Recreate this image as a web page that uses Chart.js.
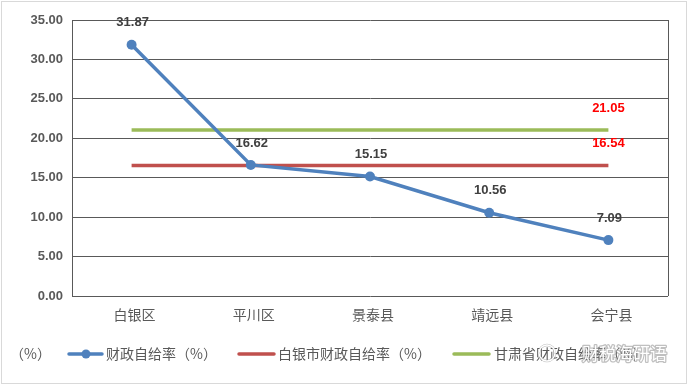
<!DOCTYPE html>
<html><head><meta charset="utf-8">
<script src="https://cdn.jsdelivr.net/npm/chart.js@4"></script>
<style>html,body{margin:0;padding:0;background:#fff}#w{width:689px;height:386px;position:relative}</style>
</head><body><div id="w"><canvas id="c" width="689" height="386"></canvas></div>
<script>
const categories = ['白银区','平川区','景泰县','靖远县','会宁县'];
const selfRate = [31.87,16.62,15.15,10.56,7.09];
const cityRate = [16.54,16.54,16.54,16.54,16.54];
const provRate = [21.05,21.05,21.05,21.05,21.05];
const yTicks = [0,5,10,15,20,25,30,35];
const seriesNames = ['财政自给率（%）','白银市财政自给率（%）','甘肃省财政自给率（%）'];
const unitLabel = '（%）';
const watermark = '财税海研语';
const blue='#4f81bd', red='#c0504d', green='#9bbb59', txt='#595959';
const cjk = '"Noto Sans CJK SC","Microsoft YaHei",sans-serif';
const latin = '"Liberation Sans", Arial, sans-serif';

const labelsPlugin = {
  id:'labs',
  afterDatasetsDraw(chart){
    const ctx=chart.ctx;
    ctx.save();
    ctx.textAlign='center';ctx.textBaseline='middle';
    ctx.font='bold 13px '+latin;
    const m0=chart.getDatasetMeta(0);
    m0.data.forEach((p,i)=>{ctx.fillStyle='#404040';ctx.fillText(selfRate[i].toFixed(2),p.x+1,p.y-22);});
    const m1=chart.getDatasetMeta(1), m2=chart.getDatasetMeta(2);
    const li=categories.length-1;
    ctx.fillStyle='#ff0000';
    ctx.fillText(cityRate[li].toFixed(2),m1.data[li].x,m1.data[li].y-22);
    ctx.fillText(provRate[li].toFixed(2),m2.data[li].x,m2.data[li].y-22);
    ctx.restore();
  }
};
const framePlugin = {
  id:'frame',
  beforeDraw(chart){
    const ctx=chart.ctx;ctx.save();
    ctx.fillStyle='#fff';ctx.fillRect(0,0,689,386);
    ctx.strokeStyle='#d9d9d9';ctx.lineWidth=1;ctx.strokeRect(1.5,1.5,685,382);
    ctx.restore();
  },
  afterDraw(chart){
    const ctx=chart.ctx, a=chart.chartArea;ctx.save();
    ctx.strokeStyle='#595959';ctx.lineWidth=1;
    ctx.beginPath();ctx.moveTo(Math.round(a.right)+0.5,a.top);ctx.lineTo(Math.round(a.right)+0.5,a.bottom);ctx.stroke();
    // legend
    const y=354;
    ctx.font='14px '+cjk;ctx.fillStyle=txt;ctx.textBaseline='middle';ctx.textAlign='left';
    ctx.fillText(unitLabel,10,y);
    ctx.lineWidth=3.5;ctx.lineCap='round';
    ctx.strokeStyle=blue;ctx.beginPath();ctx.moveTo(69,y);ctx.lineTo(102,y);ctx.stroke();
    ctx.fillStyle=blue;ctx.beginPath();ctx.arc(86,y,4.5,0,Math.PI*2);ctx.fill();
    ctx.fillStyle=txt;ctx.fillText(seriesNames[0],106,y);
    ctx.strokeStyle=red;ctx.beginPath();ctx.moveTo(239,y);ctx.lineTo(274,y);ctx.stroke();
    ctx.fillText(seriesNames[1],278,y);
    ctx.strokeStyle=green;ctx.beginPath();ctx.moveTo(454,y);ctx.lineTo(489,y);ctx.stroke();
    ctx.fillText(seriesNames[2],494,y);
    // watermark
    ctx.font='17px '+cjk;
    ctx.lineWidth=2.5;ctx.lineJoin='round';ctx.strokeStyle='rgba(140,140,140,0.55)';ctx.fillStyle='#ffffff';
    ctx.strokeText(watermark,582,354);ctx.fillText(watermark,582,354);
    ctx.lineWidth=2.5;ctx.beginPath();ctx.arc(547,353,8,0,Math.PI*2);ctx.stroke();
    ctx.lineWidth=1.5;ctx.strokeStyle='#ffffff';ctx.beginPath();ctx.arc(547,353,8,0,Math.PI*2);ctx.stroke();
    ctx.restore();
  }
};

new Chart(document.getElementById('c'),{
  type:'line',
  data:{labels:categories,datasets:[
    {label:seriesNames[0],data:selfRate,borderColor:blue,backgroundColor:blue,borderWidth:3.5,pointRadius:5,pointBackgroundColor:blue,pointBorderWidth:0,tension:0,order:0},
    {label:seriesNames[1],data:cityRate,borderColor:red,borderWidth:3.5,pointRadius:0,tension:0,order:1},
    {label:seriesNames[2],data:provRate,borderColor:green,borderWidth:3.5,pointRadius:0,tension:0,order:2}
  ]},
  options:{
    responsive:false,animation:false,
    layout:{padding:{left:0,right:21,top:20,bottom:0}},
    plugins:{legend:{display:false},tooltip:{enabled:false}},
    scales:{
      x:{offset:true,grid:{display:false},border:{display:false},
        ticks:{color:txt,font:{family:cjk,size:14},padding:2,labelOffset:3},
        afterFit(s){s.height=90;}},
      y:{min:0,max:35,afterBuildTicks(s){s.ticks=yTicks.map(v=>({value:v}));},
        grid:{color:'#595959',lineWidth:1,drawTicks:false},border:{color:'#595959',width:1},
        ticks:{color:txt,font:{family:latin,size:13,weight:'bold'},padding:9,callback:v=>Number(v).toFixed(2)},
        afterFit(s){s.width=72;}}
    }
  },
  plugins:[framePlugin,labelsPlugin]
});
</script></body></html>
